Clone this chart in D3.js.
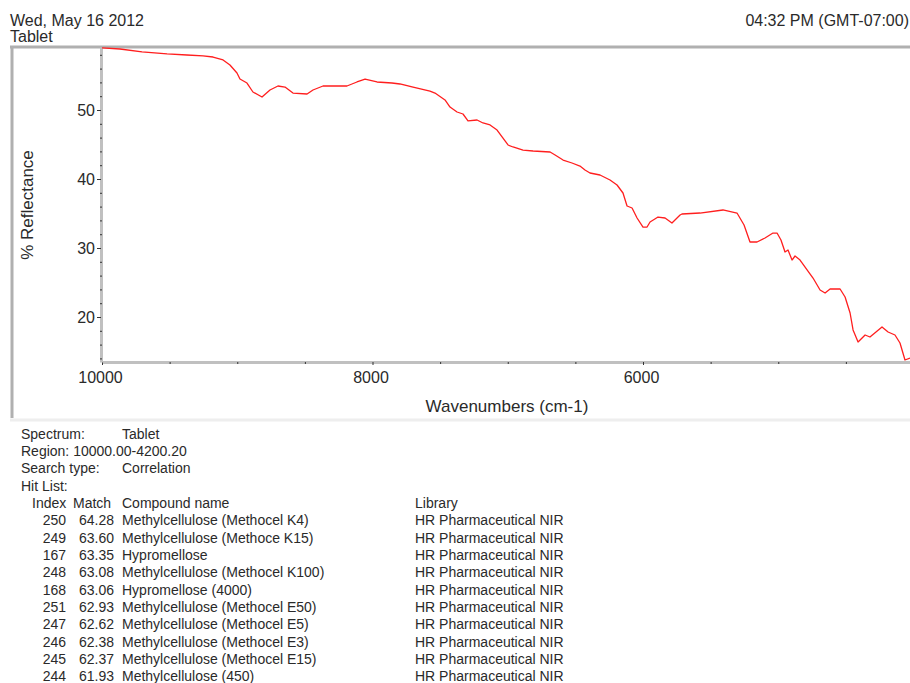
<!DOCTYPE html>
<html><head><meta charset="utf-8">
<script src="https://cdn.jsdelivr.net/npm/d3@7"></script>
<style>
html,body{margin:0;padding:0;background:#fff;}
svg{display:block;font-family:"Liberation Sans",Arial,sans-serif;}
</style></head><body>
<svg id="chart" width="910" height="683"></svg>
<script>
// ---- data ----
const wavenumbers = [10000,9867,9704,9519,9372,9253,9179,9105,9054,9002,8980,8928,8884,8817,8758,8699,8647,8588,8484,8440,8366,8189,8115,8055,7967,7856,7797,7700,7575,7538,7464,7427,7375,7331,7294,7227,7183,7131,7079,7042,6998,6961,6887,6813,6687,6650,6591,6525,6466,6429,6392,6318,6244,6192,6148,6118,6081,6044,6000,5970,5948,5889,5837,5786,5726,5712,5579,5409,5305,5253,5209,5157,5098,5039,5009,4980,4950,4928,4898,4876,4839,4743,4691,4654,4617,4543,4506,4469,4447,4410,4358,4322,4233,4188,4137,4100,4063,4026];
const reflectance = [59.0,58.84,58.41,58.12,57.97,57.83,57.68,57.25,56.52,55.36,54.49,53.91,52.61,51.88,52.90,53.48,53.33,52.46,52.32,52.90,53.48,53.48,54.06,54.49,54.06,53.91,53.77,53.33,52.75,52.46,51.45,50.43,49.71,49.42,48.41,48.55,48.12,47.83,47.10,46.09,44.93,44.64,44.20,44.06,43.91,43.48,42.75,42.32,41.88,41.30,40.87,40.58,39.86,39.13,37.97,36.09,35.80,34.35,33.04,33.04,33.77,34.49,34.35,33.62,34.78,34.93,35.07,35.51,35.07,33.33,30.87,30.87,31.45,32.17,32.17,31.16,29.42,29.71,28.26,28.84,28.26,25.65,23.91,23.48,24.06,24.06,22.90,20.58,18.12,16.38,17.39,17.10,18.55,17.83,17.39,16.23,13.77,14.06];
const xMajorTicks = [10000, 8000, 6000];
const xMinorTicks = [9500, 9000, 8500, 7500, 7000, 6500, 5500, 5000, 4500];
const yMajorTicks = [20, 30, 40, 50];
const yMinorTicks = [14,16,18,22,24,26,28,32,34,36,38,42,44,46,48,52,54,56,58];

const headerDate = "Wed, May 16 2012";
const headerTime = "04:32 PM (GMT-07:00)";
const spectrumName = "Tablet";
const infoLabels = ["Spectrum:", "Region: 10000.00-4200.20", "Search type:", "Hit List:"];
const infoValues = ["Tablet", "", "Correlation", ""];
const hitIndex = [250, 249, 167, 248, 168, 251, 247, 246, 245, 244];
const hitMatch = ["64.28","63.60","63.35","63.08","63.06","62.93","62.62","62.38","62.37","61.93"];
const hitNames = ["Methylcellulose (Methocel K4)","Methylcellulose (Methoce K15)","Hypromellose","Methylcellulose (Methocel K100)","Hypromellose (4000)","Methylcellulose (Methocel E50)","Methylcellulose (Methocel E5)","Methylcellulose (Methocel E3)","Methylcellulose (Methocel E15)","Methylcellulose (450)"];
const hitLibrary = ["HR Pharmaceutical NIR","HR Pharmaceutical NIR","HR Pharmaceutical NIR","HR Pharmaceutical NIR","HR Pharmaceutical NIR","HR Pharmaceutical NIR","HR Pharmaceutical NIR","HR Pharmaceutical NIR","HR Pharmaceutical NIR","HR Pharmaceutical NIR"];

// ---- drawing ----
const svg = d3.select("#chart");
const textColor = "#2a2a2a";
svg.append("rect").attr("width", 910).attr("height", 683).attr("fill", "#fff");

// header
svg.append("text").attr("x", 10).attr("y", 26).attr("font-size", 16).attr("fill", textColor).text(headerDate);
svg.append("text").attr("x", 10).attr("y", 42).attr("font-size", 16).attr("fill", textColor).text(spectrumName);
svg.append("text").attr("x", 909).attr("y", 26).attr("font-size", 16).attr("fill", textColor).attr("text-anchor", "end").text(headerTime);

// frame
svg.append("line").attr("x1", 10).attr("x2", 910).attr("y1", 47).attr("y2", 47).attr("stroke", "#b0b0b0").attr("stroke-width", 3);
svg.append("line").attr("x1", 12).attr("x2", 12).attr("y1", 46).attr("y2", 418).attr("stroke", "#b0b0b0").attr("stroke-width", 3);
svg.append("line").attr("x1", 10).attr("x2", 910).attr("y1", 420).attr("y2", 420).attr("stroke", "#eeeeee").attr("stroke-width", 3);

const x = d3.scaleLinear().domain([10000, 4026]).range([102, 910]);
const y = d3.scaleLinear().domain([13.48, 59.13]).range([362, 47]);

// x axis
const gx = svg.append("g").attr("transform", "translate(0,362)")
  .call(d3.axisBottom(x).tickValues(xMajorTicks).tickSize(3).tickSizeOuter(0).tickPadding(7).tickFormat(d3.format("d")));
gx.select(".domain").attr("stroke", "#c0c0c0").attr("stroke-width", 3);
gx.selectAll(".tick line").attr("stroke", "#333");
gx.selectAll(".tick text").attr("font-size", 16).attr("fill", textColor).attr("font-family", "Liberation Sans, Arial, sans-serif").attr("dx", -2);
const gxm = svg.append("g").attr("transform", "translate(0,362)")
  .call(d3.axisBottom(x).tickValues(xMinorTicks).tickSize(2).tickSizeOuter(0).tickFormat(""));
gxm.select(".domain").remove();
gxm.selectAll(".tick line").attr("stroke", "#333");

// y axis
const gy = svg.append("g").attr("transform", "translate(101,0)")
  .call(d3.axisLeft(y).tickValues(yMajorTicks).tickSize(4).tickSizeOuter(0).tickPadding(2));
gy.select(".domain").attr("stroke", "#c0c0c0").attr("stroke-width", 3);
gy.selectAll(".tick line").attr("stroke", "#333");
gy.selectAll(".tick text").attr("font-size", 16).attr("fill", textColor).attr("font-family", "Liberation Sans, Arial, sans-serif");
const gym = svg.append("g").attr("transform", "translate(101,0)")
  .call(d3.axisLeft(y).tickValues(yMinorTicks).tickSize(2).tickSizeOuter(0).tickFormat(""));
gym.select(".domain").remove();
gym.selectAll(".tick line").attr("stroke", "#333").attr("transform", "translate(1,0)");

// axis titles
svg.append("text").attr("x", 507).attr("y", 412).attr("text-anchor", "middle").attr("font-size", 17).attr("fill", textColor).text("Wavenumbers (cm-1)");
svg.append("text").attr("transform", "translate(33,205) rotate(-90)").attr("text-anchor", "middle").attr("font-size", 17).attr("fill", textColor).text("% Reflectance");

// spectrum line
svg.append("clipPath").attr("id", "plotclip").append("rect").attr("x", 102).attr("y", 47).attr("width", 808).attr("height", 315);
const pts = wavenumbers.map((w, i) => ({w, v: reflectance[i]}));
svg.append("path").datum(pts).attr("clip-path", "url(#plotclip)")
  .attr("fill", "none").attr("stroke", "#ff1e1e").attr("stroke-width", 1.3).attr("stroke-linejoin", "round")
  .attr("d", d3.line().x(d => x(d.w)).y(d => y(d.v)));

// info table
const fs = 14, rowH = 17.35, y0 = 438.5;
const info = svg.append("g").attr("font-size", fs).attr("fill", textColor);
infoLabels.forEach((t, i) => {
  info.append("text").attr("x", 21).attr("y", y0 + i * rowH).text(t);
  if (infoValues[i]) info.append("text").attr("x", 122).attr("y", y0 + i * rowH).text(infoValues[i]);
});
const hy = y0 + 4 * rowH;
info.append("text").attr("x", 32).attr("y", hy).text("Index");
info.append("text").attr("x", 73).attr("y", hy).text("Match");
info.append("text").attr("x", 122).attr("y", hy).text("Compound name");
info.append("text").attr("x", 415).attr("y", hy).text("Library");
const rows = info.selectAll("g.row").data(hitIndex.map((d, i) => i)).join("g").attr("class", "row")
  .attr("transform", i => `translate(0,${hy + (i + 1) * rowH})`);
rows.append("text").attr("x", 66).attr("text-anchor", "end").text(i => hitIndex[i]);
rows.append("text").attr("x", 114).attr("text-anchor", "end").text(i => hitMatch[i]);
rows.append("text").attr("x", 122).text(i => hitNames[i]);
rows.append("text").attr("x", 415).text(i => hitLibrary[i]);
</script></body></html>
